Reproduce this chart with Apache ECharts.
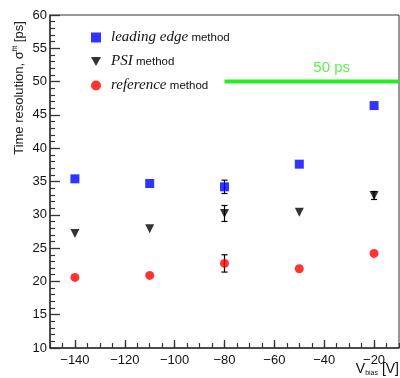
<!DOCTYPE html>
<html><head><meta charset="utf-8">
<script src="https://cdn.jsdelivr.net/npm/echarts@6/dist/echarts.min.js"></script>
<style>html,body{margin:0;padding:0;background:#fff}#c{width:400px;height:378px}</style>
</head><body><div id="c"></div>
<script>
const voltages = [-140, -110, -80, -50, -20];
const leadingEdge = [35.4, 34.7, 34.2, 37.6, 46.4];
const leadingErr = [0, 0, 1.0, 0, 0];
const psi = [27.2, 27.9, 30.2, 30.4, 32.9];
const psiErr = [0, 0, 1.2, 0, 0.6];
const reference = [20.6, 20.9, 22.7, 21.9, 24.2];
const referenceErr = [0, 0, 1.3, 0, 0];
const limitX = [-80, -10];
const limitY = 50;
const limitLabel = '50 ps';
const limitLabelPos = [-37, 52.0];
const names = ['leading edge', 'PSI', 'reference'];
const xTickLabels = [-140, -120, -100, -80, -60, -40, -20];

function pts(ys) { return voltages.map((v, i) => [v, ys[i]]); }
function errData(ys, es) {
  const out = [];
  voltages.forEach((v, i) => { if (es[i] > 0) out.push([v, ys[i] - es[i], ys[i] + es[i]]); });
  return out;
}
function errSeries(ys, es) {
  return {
    type: 'custom', silent: true, z: 1,
    data: errData(ys, es),
    renderItem: function (params, api) {
      const lo = api.coord([api.value(0), api.value(1)]);
      const hi = api.coord([api.value(0), api.value(2)]);
      const w = 3;
      const st = { stroke: '#000', lineWidth: 1.2 };
      return { type: 'group', children: [
        { type: 'line', shape: { x1: lo[0], y1: lo[1], x2: hi[0], y2: hi[1] }, style: st },
        { type: 'line', shape: { x1: lo[0] - w, y1: lo[1], x2: lo[0] + w, y2: lo[1] }, style: st },
        { type: 'line', shape: { x1: hi[0] - w, y1: hi[1], x2: hi[0] + w, y2: hi[1] }, style: st }
      ]};
    }
  };
}
const fontF = '"Liberation Sans", Arial, sans-serif';
const tickCol = '#333';
const chart = echarts.init(document.getElementById('c'));
chart.setOption({
  animation: false,
  grid: { left: 50, right: 1, top: 15, bottom: 30, show: true, borderColor: '#333', borderWidth: 1,
    backgroundColor: 'transparent', containLabel: false, outerBoundsMode: 'none' },
  legend: {
    orient: 'vertical', left: 86, top: 25, itemGap: 9, itemWidth: 10, itemHeight: 10,
    data: [
      { name: names[0], icon: 'rect' },
      { name: names[1], icon: 'path://M0,0 L10,0 L5,9 Z' },
      { name: names[2], icon: 'circle' }
    ],
    formatter: function (n) { return '{i|' + n + '} {m|method}'; },
    textStyle: { rich: {
      i: { fontFamily: '"Liberation Serif", "Times New Roman", serif', fontStyle: 'italic', fontSize: 15, color: '#111', padding: [0, 0, 0, 5] },
      m: { fontFamily: fontF, fontSize: 11.5, color: '#111', padding: [1.5, 0, 0, 0] }
    } }
  },
  xAxis: [{
    type: 'value', min: -150, max: -10, interval: 5,
    axisLine: { lineStyle: { color: tickCol, width: 1.5 } },
    axisTick: { inside: true, length: 8, customValues: xTickLabels, lineStyle: { color: tickCol, width: 1.3 } },
    splitLine: { show: false },
    axisLabel: { color: '#111', fontFamily: fontF, fontSize: 13, margin: 6, customValues: xTickLabels,
      formatter: function (v) { return String(v).replace('-', '\u2212'); } }
  }, {
    type: 'value', min: -150, max: -10, interval: 5, position: 'bottom',
    axisLine: { show: false },
    axisTick: { inside: true, length: 5, lineStyle: { color: tickCol, width: 1.2 } },
    axisLabel: { show: false }, splitLine: { show: false }
  }],
  yAxis: {
    type: 'value', min: 10, max: 60, interval: 5,
    axisLine: { lineStyle: { color: tickCol, width: 1.5 } },
    axisTick: { inside: true, length: 10, lineStyle: { color: tickCol, width: 1.3 } },
    minorTick: { show: true, splitNumber: 5, length: 5, lineStyle: { color: tickCol, width: 1.2 } },
    splitLine: { show: false },
    axisLabel: { color: '#111', fontFamily: fontF, fontSize: 13, margin: 3 }
  },
  graphic: [{
    type: 'text', x: 19, y: 88, rotation: Math.PI / 2,
    style: { text: 'Time resolution, \u03c3{sup|fit} [ps]', fill: '#222', font: '13px ' + fontF,
      align: 'center', verticalAlign: 'middle',
      rich: { sup: { fontSize: 7, fill: '#222', padding: [0, 0, 7, 0] } } }
  }, {
    type: 'text', right: 1, top: 362,
    style: { text: 'V{s|bias} [V]', fill: '#111', font: '14px ' + fontF,
      rich: { s: { fontSize: 7, fill: '#111', padding: [8, 0, 0, 0] } } }
  }],
  series: [
    errSeries(leadingEdge, leadingErr),
    errSeries(psi, psiErr),
    errSeries(reference, referenceErr),
    { name: names[0], type: 'scatter', symbol: 'rect', symbolSize: 9, itemStyle: { color: '#0000ff' }, data: pts(leadingEdge), z: 3 },
    { name: names[1], type: 'scatter', symbol: 'triangle', symbolRotate: 180, symbolSize: 9, itemStyle: { color: '#000' }, data: pts(psi), z: 3 },
    { name: names[2], type: 'scatter', symbol: 'circle', symbolSize: 9, itemStyle: { color: '#ff0000' }, data: pts(reference), z: 3 },
    { type: 'line', silent: true, symbol: 'none', z: 2,
      lineStyle: { color: '#22ee22', width: 4 },
      data: [[limitX[0], limitY], [limitX[1], limitY]] },
    { type: 'scatter', silent: true, symbolSize: 1, itemStyle: { color: 'rgba(0,0,0,0)' },
      data: [limitLabelPos],
      label: { show: true, position: 'inside', formatter: limitLabel, color: '#33ee22', fontFamily: fontF, fontSize: 15 } }
  ]
});
</script></body></html>
